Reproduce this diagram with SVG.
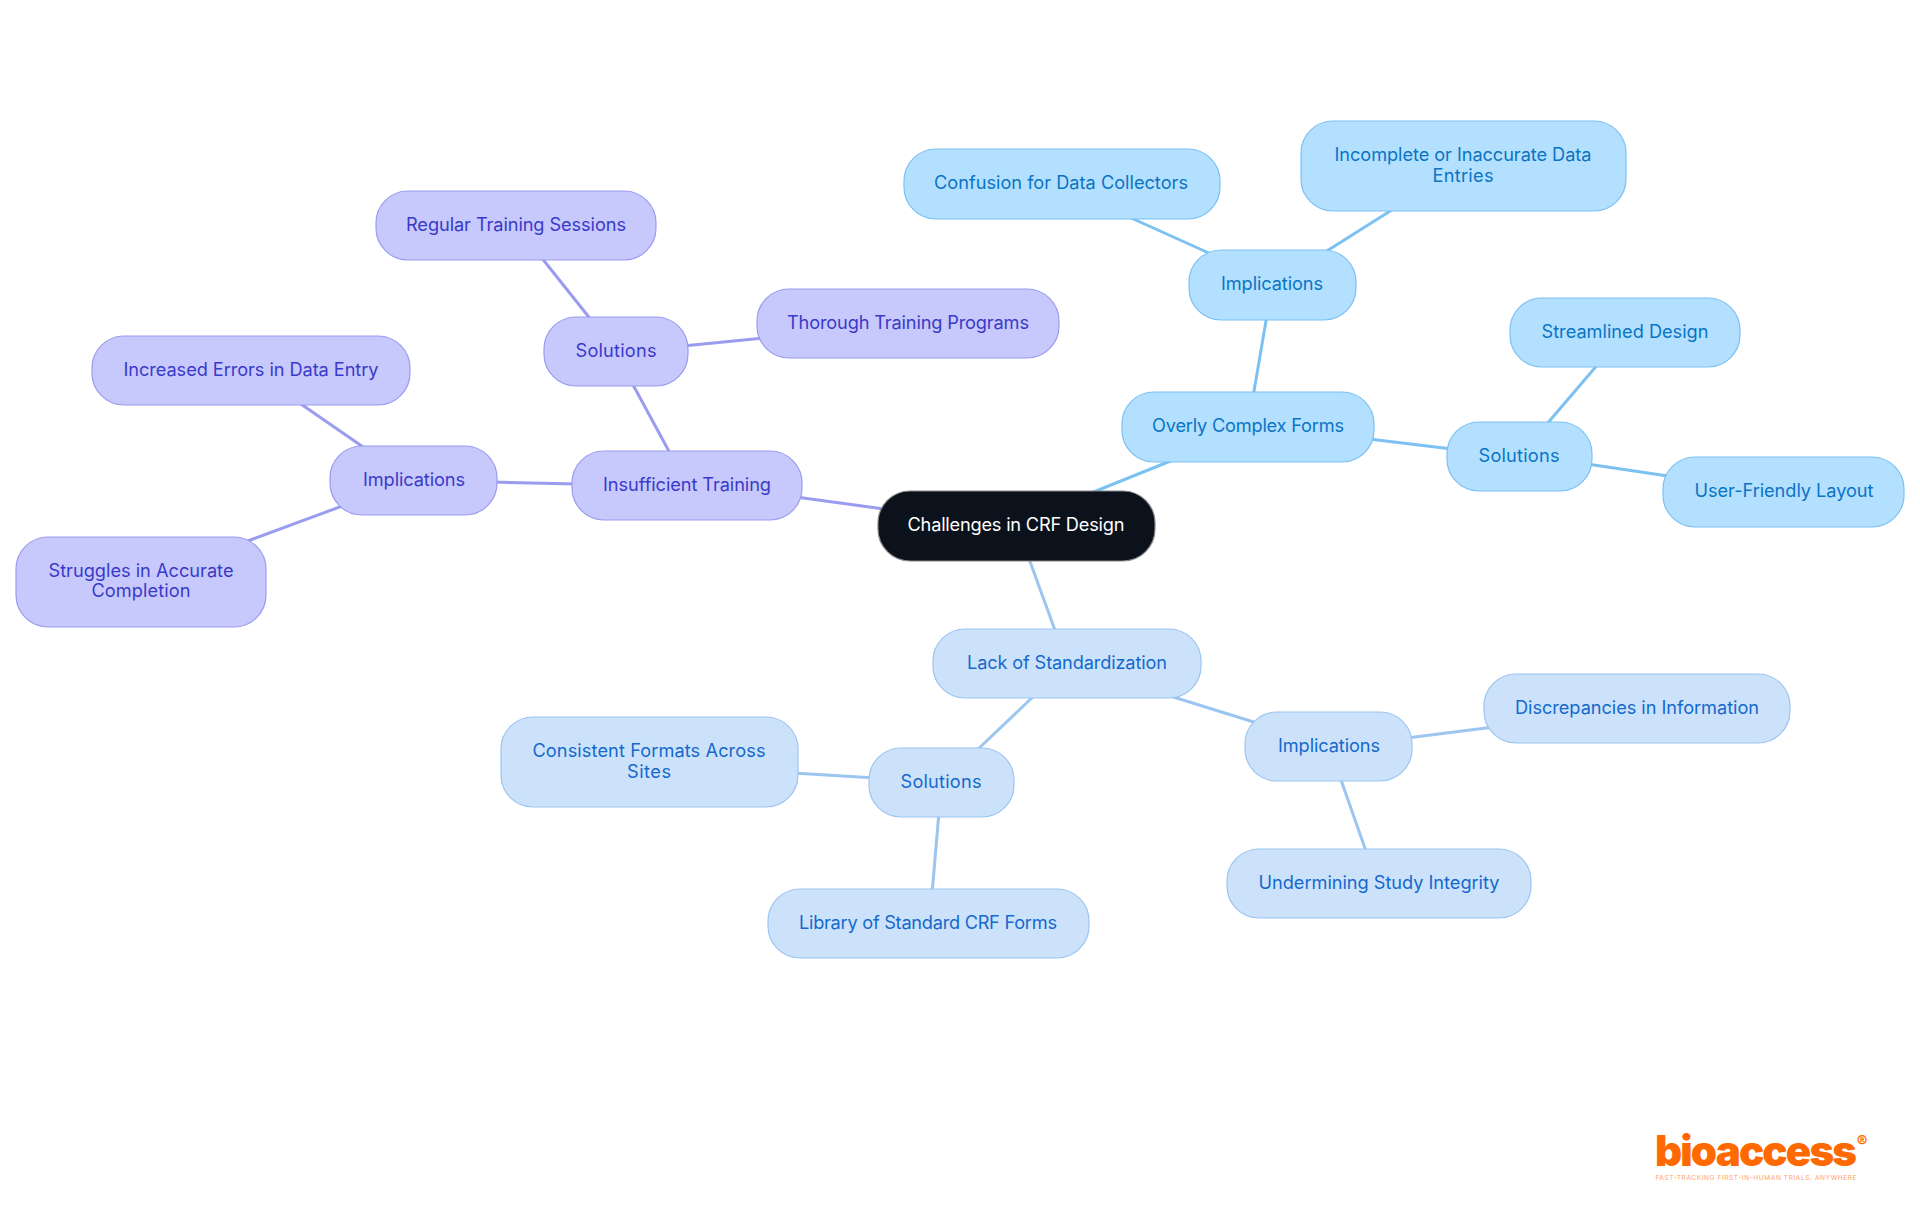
<svg xmlns="http://www.w3.org/2000/svg" width="1920" height="1215" viewBox="0 0 1920 1215">
<style>
text{font-family:"Inter","Noto Sans","Liberation Sans",sans-serif;font-size:18.2px;font-weight:400;text-anchor:middle}
rect{stroke-width:1.2;rx:32px;ry:32px}
.b1 rect{fill:#b3e0ff;stroke:#7cc1f2}.b1 text{fill:#0b74c4}
.b2 rect{fill:#cce2fb;stroke:#9cc5f0}.b2 text{fill:#1569cc}
.v rect{fill:#c7c9fd;stroke:#9a9cf0}.v text{fill:#3a3ac8}
#edges line{stroke-width:3;fill:none}
.e1{stroke:#7cc1f2}.e2{stroke:#9cc5f0}.e3{stroke:#9a9cf0}
</style>
<rect width="1920" height="1215" fill="#fff" style="stroke:none;rx:0;ry:0"/>
<g id="edges">
<line class="e1" x1="1091" y1="493" x2="1173" y2="460"/>
<line class="e1" x1="1253" y1="397" x2="1267" y2="315"/>
<line class="e1" x1="1211" y1="254" x2="1129" y2="217"/>
<line class="e1" x1="1322" y1="254" x2="1395" y2="208"/>
<line class="e1" x1="1369" y1="439" x2="1452" y2="449"/>
<line class="e1" x1="1546" y1="425" x2="1599" y2="363"/>
<line class="e1" x1="1587" y1="464" x2="1668" y2="476"/>
<line class="e2" x1="1028" y1="556" x2="1056" y2="633"/>
<line class="e2" x1="1167" y1="695" x2="1260" y2="724"/>
<line class="e2" x1="1407" y1="738" x2="1494" y2="727"/>
<line class="e2" x1="1340" y1="777" x2="1367" y2="854"/>
<line class="e2" x1="1036" y1="694" x2="975" y2="752"/>
<line class="e2" x1="876" y1="778" x2="793" y2="773"/>
<line class="e2" x1="939" y1="812" x2="932" y2="894"/>
<line class="e3" x1="884" y1="509" x2="796" y2="497"/>
<line class="e3" x1="577" y1="484" x2="492" y2="482"/>
<line class="e3" x1="366" y1="449" x2="298" y2="402"/>
<line class="e3" x1="345" y1="505" x2="245" y2="542"/>
<line class="e3" x1="671" y1="455" x2="632" y2="383"/>
<line class="e3" x1="592" y1="321" x2="541" y2="257"/>
<line class="e3" x1="764" y1="338" x2="683" y2="346"/>
</g>
<g id="root"><rect x="878" y="491" width="277" height="70" style="fill:#0b121b;stroke:#888"/><text x="1016" y="531" fill="#fff" textLength="217">Challenges in CRF Design</text></g>
<g id="overly" class="b1"><rect x="1122" y="392" width="252" height="70"/><text x="1248" y="432" textLength="192">Overly Complex Forms</text></g>
<g id="impl1" class="b1"><rect x="1189" y="250" width="167" height="70"/><text x="1272" y="290" textLength="102">Implications</text></g>
<g id="confusion" class="b1"><rect x="904" y="149" width="316" height="70"/><text x="1061" y="189" textLength="254">Confusion for Data Collectors</text></g>
<g id="incomplete" class="b1"><rect x="1301" y="121" width="325" height="90"/><text x="1463" y="161" textLength="257">Incomplete or Inaccurate Data</text><text x="1463" y="182" textLength="61">Entries</text></g>
<g id="sol1" class="b1"><rect x="1447" y="422" width="145" height="69"/><text x="1519" y="462" textLength="81">Solutions</text></g>
<g id="stream" class="b1"><rect x="1510" y="298" width="230" height="69"/><text x="1625" y="338" textLength="167">Streamlined Design</text></g>
<g id="user" class="b1"><rect x="1663" y="457" width="241" height="70"/><text x="1784" y="497" textLength="179">User-Friendly Layout</text></g>
<g id="lack" class="b2"><rect x="933" y="629" width="268" height="69"/><text x="1067" y="669" textLength="200">Lack of Standardization</text></g>
<g id="impl2" class="b2"><rect x="1245" y="712" width="167" height="69"/><text x="1329" y="752" textLength="102">Implications</text></g>
<g id="disc" class="b2"><rect x="1484" y="674" width="306" height="69"/><text x="1637" y="714" textLength="244">Discrepancies in Information</text></g>
<g id="under" class="b2"><rect x="1227" y="849" width="304" height="69"/><text x="1379" y="889" textLength="241">Undermining Study Integrity</text></g>
<g id="sol2" class="b2"><rect x="869" y="748" width="145" height="69"/><text x="941" y="788" textLength="81">Solutions</text></g>
<g id="consistent" class="b2"><rect x="501" y="717" width="297" height="90"/><text x="649" y="757" textLength="233">Consistent Formats Across</text><text x="649" y="778" textLength="44">Sites</text></g>
<g id="library" class="b2"><rect x="768" y="889" width="321" height="69"/><text x="928" y="929" textLength="258">Library of Standard CRF Forms</text></g>
<g id="insuff" class="v"><rect x="572" y="451" width="230" height="69"/><text x="687" y="491" textLength="168">Insufficient Training</text></g>
<g id="impl3" class="v"><rect x="330" y="446" width="167" height="69"/><text x="414" y="486" textLength="102">Implications</text></g>
<g id="incr" class="v"><rect x="92" y="336" width="318" height="69"/><text x="251" y="376" textLength="255">Increased Errors in Data Entry</text></g>
<g id="strug" class="v"><rect x="16" y="537" width="250" height="90"/><text x="141" y="577" textLength="185">Struggles in Accurate</text><text x="141" y="597" textLength="99">Completion</text></g>
<g id="sol3" class="v"><rect x="544" y="317" width="144" height="69"/><text x="616" y="357" textLength="81">Solutions</text></g>
<g id="regular" class="v"><rect x="376" y="191" width="280" height="69"/><text x="516" y="231" textLength="220">Regular Training Sessions</text></g>
<g id="thorough" class="v"><rect x="757" y="289" width="302" height="69"/><text x="908" y="329" textLength="242">Thorough Training Programs</text></g>
<g id="logo">
<text x="1756" y="1166" textLength="202" style="font-size:42px;font-weight:900;fill:#ff6a00;font-family:'Inter','Liberation Sans',sans-serif">bioaccess</text>
<text x="1862" y="1147" style="font-size:16px;font-weight:700;fill:#ff6a00">®</text>
<text x="1756" y="1180" textLength="201" style="font-size:6.6px;fill:#ffa36b">FAST-TRACKING FIRST-IN-HUMAN TRIALS, ANYWHERE</text>
</g>
</svg>
